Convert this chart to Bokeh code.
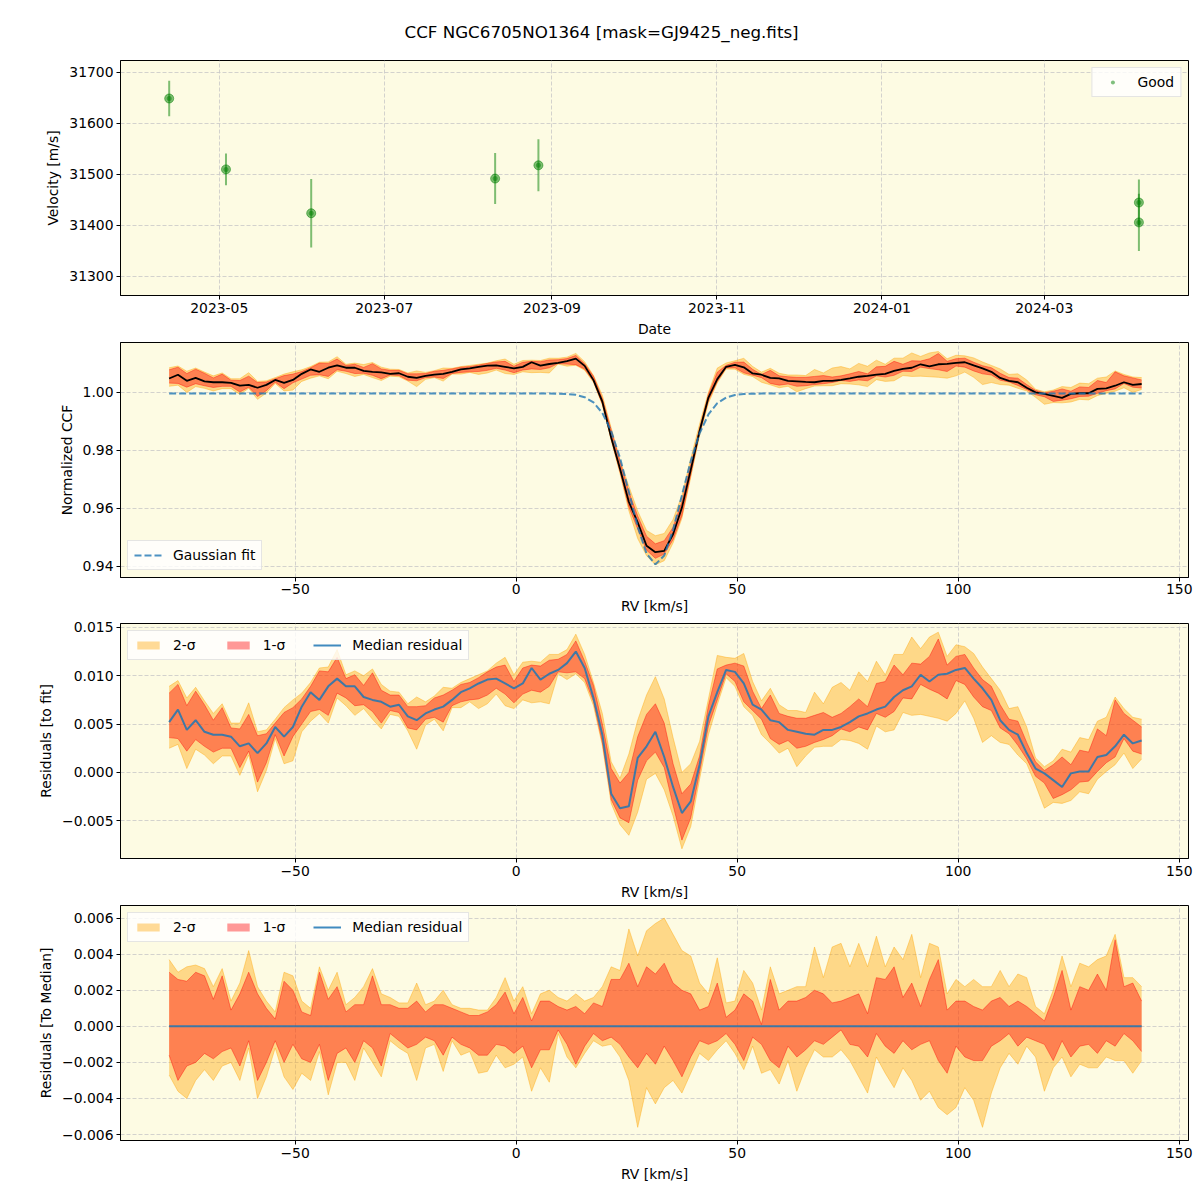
import numpy as np
import pandas as pd
from bokeh.plotting import figure
from bokeh.layouts import column
from bokeh.models import (Range1d, FixedTicker, DatetimeTickFormatter,
                          CustomJSTickFormatter, Legend, LegendItem)
from bokeh.embed import file_html
from bokeh.resources import INLINE

TITLE = "CCF NGC6705NO1364 [mask=GJ9425_neg.fits]"

# ---- radial-velocity time series -------------------------------------------
obs_date = ["2023-04-12 12:00", "2023-05-03 12:00", "2023-06-04 00:00",
            "2023-08-11 00:00", "2023-08-27 00:00", "2024-04-05 00:00",
            "2024-04-05 00:00"]
obs_velocity = [31649, 31510, 31424, 31492, 31518, 31445, 31406]
obs_error = [35, 31, 67, 50, 51, 45, 56]
date_ticks = ["2023-05-01", "2023-07-01", "2023-09-01", "2023-11-01",
              "2024-01-01", "2024-03-01"]

# ---- CCF profile on the RV grid [km/s] --------------------------------------
rv_grid = [
    -78.5, -76.5, -74.5, -72.5, -70.5, -68.5, -66.5, -64.5, -62.5, -60.5,
    -58.5, -56.5, -54.5, -52.5, -50.5, -48.5, -46.5, -44.5, -42.5, -40.5,
    -38.5, -36.5, -34.5, -32.5, -30.5, -28.5, -26.5, -24.5, -22.5, -20.5,
    -18.5, -16.5, -14.5, -12.5, -10.5, -8.5, -6.5, -4.5, -2.5, -0.5,
    1.5, 3.5, 5.5, 7.5, 9.5, 11.5, 13.5, 15.5, 17.5, 19.5,
    21.5, 23.5, 25.5, 27.5, 29.5, 31.5, 33.5, 35.5, 37.5, 39.5,
    41.5, 43.5, 45.5, 47.5, 49.5, 51.5, 53.5, 55.5, 57.5, 59.5,
    61.5, 63.5, 65.5, 67.5, 69.5, 71.5, 73.5, 75.5, 77.5, 79.5,
    81.5, 83.5, 85.5, 87.5, 89.5, 91.5, 93.5, 95.5, 97.5, 99.5,
    101.5, 103.5, 105.5, 107.5, 109.5, 111.5, 113.5, 115.5, 117.5, 119.5,
    121.5, 123.5, 125.5, 127.5, 129.5, 131.5, 133.5, 135.5, 137.5, 139.5,
    141.5,
]

# Gaussian model of the line profile
ccf_fit = [
    0.9996, 0.9996, 0.9996, 0.9996, 0.9996, 0.9996, 0.9996, 0.9996, 0.9996, 0.9996,
    0.9996, 0.9996, 0.9996, 0.9996, 0.9996, 0.9996, 0.9996, 0.9996, 0.9996, 0.9996,
    0.9996, 0.9996, 0.9996, 0.9996, 0.9996, 0.9996, 0.9996, 0.9996, 0.9996, 0.9996,
    0.9996, 0.9996, 0.9996, 0.9996, 0.9996, 0.9996, 0.9996, 0.9996, 0.9996, 0.9996,
    0.9996, 0.9996, 0.9996, 0.99959, 0.99956, 0.99945, 0.99915, 0.99835, 0.99653, 0.99291,
    0.98667, 0.97738, 0.96572, 0.95372, 0.94443, 0.94071, 0.94378, 0.95262, 0.96449, 0.97631,
    0.98588, 0.99242, 0.99627, 0.99823, 0.99910, 0.99944, 0.99955, 0.99959, 0.9996, 0.9996,
    0.9996, 0.9996, 0.9996, 0.9996, 0.9996, 0.9996, 0.9996, 0.9996, 0.9996, 0.9996,
    0.9996, 0.9996, 0.9996, 0.9996, 0.9996, 0.9996, 0.9996, 0.9996, 0.9996, 0.9996,
    0.9996, 0.9996, 0.9996, 0.9996, 0.9996, 0.9996, 0.9996, 0.9996, 0.9996, 0.9996,
    0.9996, 0.9996, 0.9996, 0.9996, 0.9996, 0.9996, 0.9996, 0.9996, 0.9996, 0.9996,
    0.9996,
]

# median residual of the observed CCFs with respect to the fit
resid_median = [
    0.0052, 0.0065, 0.0044, 0.0054, 0.0042, 0.0039, 0.0039, 0.0037, 0.0027, 0.0030,
    0.0020, 0.0030, 0.0047, 0.0037, 0.0047, 0.0068, 0.0083, 0.0075, 0.0089, 0.0097,
    0.0089, 0.0089, 0.0078, 0.0075, 0.0073, 0.0068, 0.0070, 0.0058, 0.0054, 0.0061,
    0.0065, 0.0068, 0.0075, 0.0083, 0.0087, 0.0092, 0.0096, 0.0097, 0.0092, 0.0087,
    0.0092, 0.0108, 0.0096, 0.0102, 0.0106, 0.0113, 0.0125, 0.0108, 0.0077, 0.0039,
    -0.0022, -0.0037, -0.0035, 0.0015, 0.0027, 0.0042, 0.0016, -0.0015, -0.0042, -0.0030,
    0.0008, 0.0058, 0.0083, 0.0106, 0.0104, 0.0092, 0.0070, 0.0065, 0.0054, 0.0052,
    0.0044, 0.0042, 0.0040, 0.0039, 0.0044, 0.0044, 0.0047, 0.0052, 0.0058, 0.0061,
    0.0065, 0.0068, 0.0078, 0.0085, 0.0089, 0.0101, 0.0094, 0.0101, 0.0102, 0.0106,
    0.0108, 0.0097, 0.0087, 0.0075, 0.0054, 0.0044, 0.0039, 0.0020, 0.0004, -0.0001,
    -0.0008, -0.0015, -0.0001, 0.0001, 0.0001, 0.0016, 0.0018, 0.0027, 0.0039, 0.0030,
    0.0033,
]

# spread of the individual CCFs around their median
resid_2s_hi = [
    0.0037, 0.0030, 0.0033, 0.0034, 0.0032, 0.0022, 0.0032, 0.0014, 0.0024, 0.0042,
    0.0022, 0.0014, 0.0008, 0.0030, 0.0028, 0.0014, 0.0010, 0.0033, 0.0020, 0.0030,
    0.0012, 0.0016, 0.0022, 0.0032, 0.0018, 0.0016, 0.0013, 0.0013, 0.0024, 0.0012,
    0.0014, 0.0020, 0.0012, 0.0010, 0.0010, 0.0009, 0.0009, 0.0016, 0.0027, 0.0014,
    0.0022, 0.0007, 0.0018, 0.0020, 0.0016, 0.0014, 0.0018, 0.0014, 0.0016, 0.0022,
    0.0033, 0.0031, 0.0054, 0.0039, 0.0053, 0.0057, 0.0060, 0.0051, 0.0042, 0.0039,
    0.0024, 0.0018, 0.0038, 0.0013, 0.0014, 0.0031, 0.0024, 0.0009, 0.0033, 0.0018,
    0.0020, 0.0022, 0.0022, 0.0044, 0.0027, 0.0044, 0.0046, 0.0033, 0.0046, 0.0033,
    0.0050, 0.0033, 0.0044, 0.0037, 0.0051, 0.0027, 0.0046, 0.0044, 0.0018, 0.0026,
    0.0022, 0.0026, 0.0022, 0.0022, 0.0031, 0.0022, 0.0029, 0.0027, 0.0011, 0.0007,
    0.0020, 0.0039, 0.0022, 0.0035, 0.0033, 0.0037, 0.0039, 0.0051, 0.0027, 0.0027,
    0.0022,
]
resid_1s_hi = [
    0.0030, 0.0026, 0.0025, 0.0030, 0.0028, 0.0015, 0.0028, 0.0009, 0.0018, 0.0030,
    0.0018, 0.0010, 0.0004, 0.0025, 0.0020, 0.0008, 0.0006, 0.0030, 0.0015, 0.0022,
    0.0008, 0.0012, 0.0012, 0.0028, 0.0012, 0.0012, 0.0010, 0.0010, 0.0014, 0.0008,
    0.0012, 0.0012, 0.0010, 0.0008, 0.0006, 0.0006, 0.0008, 0.0012, 0.0019, 0.0007,
    0.0016, 0.0003, 0.0014, 0.0014, 0.0011, 0.0009, 0.0011, 0.0007, 0.0013, 0.0011,
    0.0026, 0.0026, 0.0035, 0.0022, 0.0033, 0.0029, 0.0035, 0.0024, 0.0020, 0.0018,
    0.0009, 0.0011, 0.0024, 0.0005, 0.0009, 0.0018, 0.0014, 0.0001, 0.0026, 0.0009,
    0.0014, 0.0014, 0.0016, 0.0020, 0.0018, 0.0013, 0.0014, 0.0016, 0.0018, 0.0007,
    0.0027, 0.0026, 0.0033, 0.0016, 0.0024, 0.0011, 0.0026, 0.0037, 0.0009, 0.0014,
    0.0014, 0.0011, 0.0009, 0.0014, 0.0016, 0.0011, 0.0014, 0.0011, 0.0007, 0.0003,
    0.0016, 0.0031, 0.0009, 0.0022, 0.0020, 0.0029, 0.0020, 0.0048, 0.0022, 0.0024,
    0.0014,
]
resid_1s_lo = [
    -0.0016, -0.0030, -0.0022, -0.0020, -0.0015, -0.0018, -0.0014, -0.0012, -0.0022, -0.0008,
    -0.0030, -0.0020, -0.0008, -0.0020, -0.0010, -0.0018, -0.0020, -0.0010, -0.0030, -0.0015,
    -0.0012, -0.0020, -0.0008, -0.0012, -0.0022, -0.0004, -0.0008, -0.0012, -0.0010, -0.0006,
    -0.0008, -0.0016, -0.0006, -0.0010, -0.0012, -0.0016, -0.0016, -0.0010, -0.0011, -0.0015,
    -0.0011, -0.0023, -0.0013, -0.0013, -0.0002, -0.0010, -0.0021, -0.0011, -0.0004, -0.0008,
    -0.0006, -0.0010, -0.0017, -0.0023, -0.0015, -0.0021, -0.0011, -0.0019, -0.0028, -0.0017,
    -0.0008, -0.0010, -0.0008, -0.0004, -0.0010, -0.0019, -0.0006, -0.0010, -0.0019, -0.0023,
    -0.0011, -0.0017, -0.0013, -0.0008, -0.0010, -0.0006, -0.0002, -0.0010, -0.0011, -0.0017,
    -0.0004, -0.0011, -0.0015, -0.0008, -0.0013, -0.0010, -0.0008, -0.0019, -0.0026, -0.0011,
    -0.0017, -0.0019, -0.0019, -0.0011, -0.0008, -0.0004, -0.0011, -0.0006, -0.0008, -0.0010,
    -0.0019, -0.0008, -0.0017, -0.0011, -0.0010, -0.0015, -0.0008, -0.0011, -0.0004, -0.0008,
    -0.0014,
]
resid_2s_lo = [
    -0.0027, -0.0036, -0.0040, -0.0030, -0.0024, -0.0030, -0.0022, -0.0020, -0.0030, -0.0012,
    -0.0040, -0.0028, -0.0012, -0.0028, -0.0035, -0.0026, -0.0030, -0.0014, -0.0038, -0.0020,
    -0.0020, -0.0030, -0.0012, -0.0020, -0.0028, -0.0008, -0.0012, -0.0015, -0.0030, -0.0012,
    -0.0010, -0.0025, -0.0008, -0.0016, -0.0014, -0.0026, -0.0025, -0.0016, -0.0023, -0.0021,
    -0.0017, -0.0036, -0.0023, -0.0031, -0.0004, -0.0017, -0.0023, -0.0015, -0.0008, -0.0011,
    -0.0010, -0.0017, -0.0030, -0.0056, -0.0034, -0.0043, -0.0034, -0.0030, -0.0037, -0.0026,
    -0.0015, -0.0019, -0.0013, -0.0008, -0.0015, -0.0024, -0.0011, -0.0026, -0.0024, -0.0032,
    -0.0019, -0.0036, -0.0023, -0.0013, -0.0017, -0.0017, -0.0013, -0.0019, -0.0028, -0.0037,
    -0.0017, -0.0026, -0.0034, -0.0023, -0.0030, -0.0041, -0.0036, -0.0045, -0.0049, -0.0045,
    -0.0034, -0.0041, -0.0056, -0.0037, -0.0023, -0.0015, -0.0021, -0.0011, -0.0017, -0.0036,
    -0.0023, -0.0017, -0.0028, -0.0021, -0.0023, -0.0023, -0.0017, -0.0019, -0.0019, -0.0026,
    -0.0019,
]

# ---- derived curves ----------------------------------------------------------
rv = np.array(rv_grid)
fit = np.array(ccf_fit)
med = np.array(resid_median)
d2h, d1h = np.array(resid_2s_hi), np.array(resid_1s_hi)
d1l, d2l = np.array(resid_1s_lo), np.array(resid_2s_lo)
ccf_median = fit + med
to_median = np.zeros_like(rv)

# ---- styling ----------------------------------------------------------------
FONT = "DejaVu Sans"
FS = "13.9px"
BG = "#fdfbe3"
GRID = "#c8c8c8"
ORANGE = "#ffa500"
RED = "#ff0000"
BLUE = "#1f77b4"
INK = "black"


def minus_fmt(nd):
    return CustomJSTickFormatter(
        code="return tick.toFixed(%d).replace('-', '\\u2212');" % nd)


def make_fig(top, bottom, **kw):
    p = figure(frame_width=1068, frame_height=235,
               min_border_left=120, min_border_right=12,
               min_border_top=top, min_border_bottom=bottom,
               output_backend="svg", toolbar_location=None, **kw)
    p.background_fill_color = BG
    p.border_fill_color = "white"
    p.outline_line_color = "black"
    p.outline_line_width = 1
    p.outline_line_alpha = 1
    for ax in (p.xaxis[0], p.yaxis[0]):
        ax.axis_label_text_font = FONT
        ax.axis_label_text_font_size = FS
        ax.axis_label_text_font_style = "normal"
        ax.axis_label_text_color = INK
        ax.major_label_text_font = FONT
        ax.major_label_text_font_size = FS
        ax.major_label_text_color = INK
        ax.major_tick_in = 0
        ax.major_tick_out = 4
        ax.major_tick_line_color = INK
        ax.minor_tick_line_color = None
        ax.major_label_standoff = 3
        ax.axis_label_standoff = 5
        ax.axis_line_color = INK
    for g in (p.xgrid[0], p.ygrid[0]):
        g.grid_line_color = GRID
        g.grid_line_dash = "4 2"
        g.grid_line_width = 0.8
    return p


def style_legend(leg, location, horizontal=False):
    leg.location = location
    leg.orientation = "horizontal" if horizontal else "vertical"
    leg.background_fill_color = "white"
    leg.background_fill_alpha = 0.8
    leg.border_line_color = "#cccccc"
    leg.border_line_width = 1
    leg.label_text_font = FONT
    leg.label_text_font_size = FS
    leg.label_text_color = INK
    leg.glyph_width = 28
    leg.glyph_height = 10
    leg.label_standoff = 11
    leg.label_height = 15
    leg.spacing = 28
    leg.padding = 6
    leg.margin = 7
    return leg


def draw_bands(p, lo2, hi2, lo1, hi1):
    r2 = p.varea(x=rv, y1=lo2, y2=hi2, fill_color=ORANGE, fill_alpha=0.4)
    for y in (lo2, hi2):
        p.line(rv, y, line_color=ORANGE, line_alpha=0.4, line_width=1)
    r1 = p.varea(x=rv, y1=lo1, y2=hi1, fill_color=RED, fill_alpha=0.4)
    for y in (lo1, hi1):
        p.line(rv, y, line_color=RED, line_alpha=0.4, line_width=1)
    return r2, r1


rv_range = Range1d(-89.5, 152.1)
rv_ticks = FixedTicker(ticks=[-50, 0, 50, 100, 150])

# ---- panel 1: velocities versus date ----------------------------------------
def ms(s):
    return pd.Timestamp(s).value / 1e6


p1 = make_fig(60, 45, x_axis_type="datetime")
p1.x_range = Range1d(ms("2023-03-25 12:00"), ms("2024-04-23 08:00"))
p1.y_range = Range1d(31262.7, 31723.5)
p1.xaxis.ticker = FixedTicker(ticks=[ms(d) for d in date_ticks])
fmt = "%Y-%m"
p1.xaxis.formatter = DatetimeTickFormatter(
    microseconds=fmt, milliseconds=fmt, seconds=fmt, minsec=fmt, minutes=fmt,
    hourmin=fmt, hours=fmt, days=fmt, months=fmt, years=fmt)
p1.yaxis.ticker = FixedTicker(ticks=[31300, 31400, 31500, 31600, 31700])
p1.yaxis.formatter = minus_fmt(0)
p1.xaxis.axis_label = "Date"
p1.yaxis.axis_label = "Velocity [m/s]"

t_obs = [ms(d) for d in obs_date]
v_lo = [v - e for v, e in zip(obs_velocity, obs_error)]
v_hi = [v + e for v, e in zip(obs_velocity, obs_error)]
p1.segment(x0=t_obs, y0=v_lo, x1=t_obs, y1=v_hi,
           line_color="green", line_alpha=0.5, line_width=2)
p1.scatter(t_obs, obs_velocity, size=9, fill_color="green", fill_alpha=0.5,
           line_color="green", line_alpha=0.5)
good = p1.scatter(t_obs, obs_velocity, size=5, fill_color="green",
                  fill_alpha=0.5, line_color=None)
p1.add_layout(style_legend(
    Legend(items=[LegendItem(label="Good", renderers=[good])]), "top_right"))

p1.title.text = TITLE
p1.title.align = "left"
p1.title.offset = 284
p1.title.standoff = 38
p1.title.text_font = FONT
p1.title.text_font_size = "16.7px"
p1.title.text_font_style = "normal"
p1.title.text_color = INK

# ---- panel 2: normalised CCF --------------------------------------------------
p2 = make_fig(2, 40)
p2.x_range = rv_range
p2.y_range = Range1d(0.9362, 1.0172)
p2.xaxis.ticker = rv_ticks
p2.xaxis.formatter = minus_fmt(0)
p2.yaxis.ticker = FixedTicker(ticks=[0.94, 0.96, 0.98, 1.00])
p2.yaxis.formatter = minus_fmt(2)
p2.xaxis.axis_label = "RV [km/s]"
p2.yaxis.axis_label = "Normalized CCF"
p2.xaxis.major_label_standoff = 2
p2.xaxis.axis_label_standoff = 1
draw_bands(p2, ccf_median + d2l, ccf_median + d2h,
           ccf_median + d1l, ccf_median + d1h)
p2.line(rv, ccf_median, line_color="black", line_width=1.8)
r_fit = p2.line(rv, fit, line_color=BLUE, line_alpha=0.8, line_width=2,
                line_dash="7 3")
p2.add_layout(style_legend(
    Legend(items=[LegendItem(label="Gaussian fit", renderers=[r_fit])]),
    "bottom_left"))

# ---- panel 3: residuals to the fit -------------------------------------------
p3 = make_fig(6, 45)
p3.x_range = rv_range
p3.y_range = Range1d(-0.0089, 0.0154)
p3.xaxis.ticker = rv_ticks
p3.xaxis.formatter = minus_fmt(0)
p3.yaxis.ticker = FixedTicker(ticks=[-0.005, 0.0, 0.005, 0.010, 0.015])
p3.yaxis.formatter = minus_fmt(3)
p3.xaxis.axis_label = "RV [km/s]"
p3.yaxis.axis_label = "Residuals [to fit]"
b2, b1 = draw_bands(p3, med + d2l, med + d2h, med + d1l, med + d1h)
rm = p3.line(rv, med, line_color=BLUE, line_alpha=0.85, line_width=2)
p3.add_layout(style_legend(Legend(items=[
    LegendItem(label="2-σ", renderers=[b2]),
    LegendItem(label="1-σ", renderers=[b1]),
    LegendItem(label="Median residual", renderers=[rm])]), "top_left", True))

# ---- panel 4: residuals to the median ----------------------------------------
p4 = make_fig(2, 58)
p4.x_range = rv_range
p4.y_range = Range1d(-0.00633, 0.0067)
p4.xaxis.ticker = rv_ticks
p4.xaxis.formatter = minus_fmt(0)
p4.yaxis.ticker = FixedTicker(ticks=[-0.006, -0.004, -0.002, 0.0, 0.002, 0.004, 0.006])
p4.yaxis.formatter = minus_fmt(3)
p4.xaxis.axis_label = "RV [km/s]"
p4.yaxis.axis_label = "Residuals [To Median]"
c2, c1 = draw_bands(p4, to_median + d2l, to_median + d2h,
                    to_median + d1l, to_median + d1h)
rz = p4.line(rv, to_median, line_color=BLUE, line_alpha=0.85, line_width=2)
p4.add_layout(style_legend(Legend(items=[
    LegendItem(label="2-σ", renderers=[c2]),
    LegendItem(label="1-σ", renderers=[c1]),
    LegendItem(label="Median residual", renderers=[rz])]), "top_left", True))

layout = column(p1, p2, p3, p4, spacing=0)
with open("out.html", "w", encoding="utf-8") as f:
    f.write(file_html(layout, INLINE, title=TITLE))
